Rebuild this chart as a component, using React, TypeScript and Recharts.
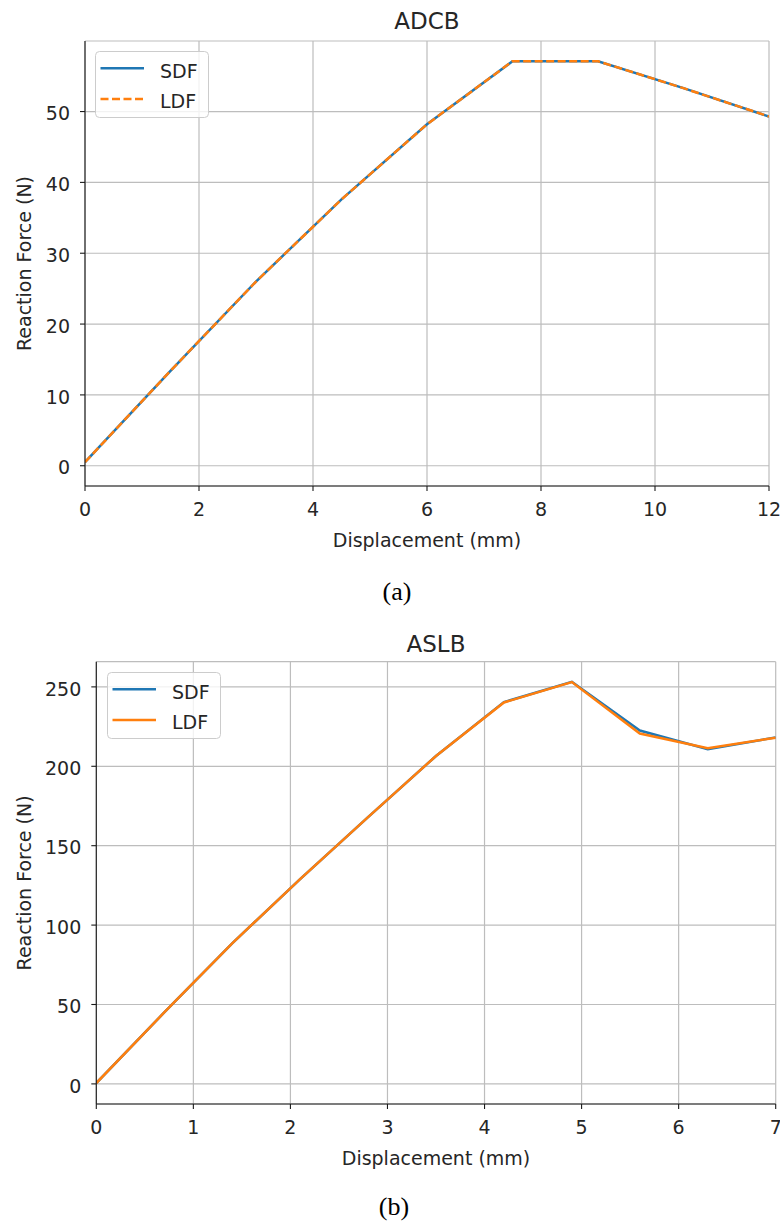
import { LineChart, Line, XAxis, YAxis, CartesianGrid, Legend } from "recharts";

// ADCB: reaction force vs. displacement
const ADCB_DISP = [0, 1.5, 3, 4.5, 6, 7.5, 9, 10.5, 12];
const ADCB_SDF = [0.5, 13.4, 26.0, 37.6, 48.2, 57.1, 57.1, 53.3, 49.3];
const ADCB_LDF = [0.5, 13.4, 26.0, 37.6, 48.2, 57.1, 57.1, 53.3, 49.3];
const ADCB_X_TICKS = [0, 2, 4, 6, 8, 10, 12];
const ADCB_Y_TICKS = [0, 10, 20, 30, 40, 50];

// ASLB: reaction force vs. displacement
const ASLB_DISP = [0, 0.7, 1.4, 2.1, 2.8, 3.5, 4.2, 4.9, 5.6, 6.3, 7.0];
const ASLB_SDF = [0.5, 45.0, 88.5, 129.0, 168.0, 206.5, 240.4, 253.2, 222.5, 210.8, 218.2];
const ASLB_LDF = [0.5, 45.0, 88.5, 129.0, 168.0, 206.5, 240.2, 253.0, 220.6, 211.4, 218.0];
const ASLB_X_TICKS = [0, 1, 2, 3, 4, 5, 6, 7];
const ASLB_Y_TICKS = [0, 50, 100, 150, 200, 250];

const SDF_COLOR = "#1f77b4";
const LDF_COLOR = "#ff7f0e";
const FONT = "'DejaVu Sans', sans-serif";
const INK = "#262626";
const SPINE = "#1a1a1a";
const GRID = "#bdbdbd";
const LINE_W = 2.5;
const DASH = "8 3.5";

const toPoints = (xs: number[], ys: number[]) => xs.map((x, i) => ({ x, y: ys[i] }));

function KeyBox({ dashed }: { dashed: boolean }) {
  return (
    <svg width={114} height={67} style={{ display: "block" }}>
      <rect x={0.5} y={0.5} width={113} height={66} rx={4} fill="#fff" fillOpacity={0.8} stroke="#cccccc" />
      <line x1={5.5} x2={49} y1={17.3} y2={17.3} stroke={SDF_COLOR} strokeWidth={LINE_W} />
      <text x={65} y={26.8} fontFamily={FONT} fontSize={19} fill={INK}>SDF</text>
      <line
        x1={5.5}
        x2={49}
        y1={48}
        y2={48}
        stroke={LDF_COLOR}
        strokeWidth={LINE_W}
        strokeDasharray={dashed ? DASH : undefined}
      />
      <text x={65} y={56.8} fontFamily={FONT} fontSize={19} fill={INK}>LDF</text>
    </svg>
  );
}

interface PanelProps {
  top: number;
  disp: number[];
  sdf: number[];
  ldf: number[];
  xDomain: [number, number];
  yDomain: [number, number];
  xTicks: number[];
  yTicks: number[];
  margin: { top: number; right: number; bottom: number; left: number };
  yAxisWidth: number;
  dashed: boolean;
  legendAt: { left: number; top: number };
}

function ForcePanel(p: PanelProps) {
  const tickStyle = { fontFamily: FONT, fontSize: 19, fill: INK };
  return (
    <div style={{ position: "absolute", left: 0, top: p.top }}>
      <LineChart width={780} height={560} margin={p.margin}>
        <CartesianGrid stroke={GRID} strokeWidth={1.2} />
        <XAxis
          type="number"
          dataKey="x"
          domain={p.xDomain}
          ticks={p.xTicks}
          interval={0}
          allowDataOverflow
          height={40}
          tickSize={5}
          tickMargin={12}
          tick={tickStyle}
          tickLine={{ stroke: SPINE, strokeWidth: 1.1 }}
          axisLine={{ stroke: SPINE, strokeWidth: 1.1 }}
        />
        <YAxis
          type="number"
          domain={p.yDomain}
          ticks={p.yTicks}
          interval={0}
          allowDataOverflow
          width={p.yAxisWidth}
          tickSize={5}
          tickMargin={10}
          tick={{ ...tickStyle, dy: 2 }}
          tickLine={{ stroke: SPINE, strokeWidth: 1.1 }}
          axisLine={{ stroke: SPINE, strokeWidth: 1.1 }}
        />
        {/* top and right spines */}
        <XAxis
          xAxisId="top"
          orientation="top"
          type="number"
          domain={p.xDomain}
          height={0}
          tick={false}
          tickLine={false}
          axisLine={{ stroke: SPINE, strokeWidth: 1.1 }}
        />
        <YAxis
          yAxisId="right"
          orientation="right"
          type="number"
          domain={p.yDomain}
          width={0}
          tick={false}
          tickLine={false}
          axisLine={{ stroke: SPINE, strokeWidth: 1.1 }}
        />
        <Line
          data={toPoints(p.disp, p.sdf)}
          dataKey="y"
          name="SDF"
          type="linear"
          stroke={SDF_COLOR}
          strokeWidth={LINE_W}
          dot={false}
          activeDot={false}
          isAnimationActive={false}
        />
        <Line
          data={toPoints(p.disp, p.ldf)}
          dataKey="y"
          name="LDF"
          type="linear"
          stroke={LDF_COLOR}
          strokeWidth={LINE_W}
          strokeDasharray={p.dashed ? DASH : undefined}
          dot={false}
          activeDot={false}
          isAnimationActive={false}
        />
        <Legend
          layout="horizontal"
          verticalAlign="middle"
          align="center"
          wrapperStyle={{ left: p.legendAt.left, top: p.legendAt.top, width: 114, height: 67 }}
          content={() => <KeyBox dashed={p.dashed} />}
        />
      </LineChart>
    </div>
  );
}

export default function App() {
  const label = { fontFamily: FONT, fontSize: 19, fill: INK };
  const title = { fontFamily: FONT, fontSize: 23, fill: INK };
  const caption = { fontFamily: "'Liberation Serif', 'Times New Roman', serif", fontSize: 26, fill: "#000" };
  return (
    <div style={{ position: "absolute", left: 0, top: 0, width: 780, height: 1229, background: "#fff" }}>
      <ForcePanel
        top={0}
        disp={ADCB_DISP}
        sdf={ADCB_SDF}
        ldf={ADCB_LDF}
        xDomain={[0, 12]}
        yDomain={[-2.86, 59.96]}
        xTicks={ADCB_X_TICKS}
        yTicks={ADCB_Y_TICKS}
        margin={{ top: 41, right: 11, bottom: 34, left: 15 }}
        yAxisWidth={70}
        dashed
        legendAt={{ left: 95, top: 51 }}
      />
      <ForcePanel
        top={600}
        disp={ASLB_DISP}
        sdf={ASLB_SDF}
        ldf={ASLB_LDF}
        xDomain={[0, 7]}
        yDomain={[-12.66, 265.86]}
        xTicks={ASLB_X_TICKS}
        yTicks={ASLB_Y_TICKS}
        margin={{ top: 61.7, right: 4.3, bottom: 16, left: 16.3 }}
        yAxisWidth={80}
        dashed={false}
        legendAt={{ left: 107, top: 71.7 }}
      />
      <svg
        width={780}
        height={1229}
        style={{ position: "absolute", left: 0, top: 0, pointerEvents: "none" }}
      >
        <text x={427} y={29.3} textAnchor="middle" {...title}>ADCB</text>
        <text x={427} y={546.7} textAnchor="middle" {...label}>Displacement (mm)</text>
        <text transform="translate(31,263.5) rotate(-90)" textAnchor="middle" {...label}>Reaction Force (N)</text>
        <text x={397} y={600} textAnchor="middle" {...caption}>(a)</text>

        <text x={436} y={651.7} textAnchor="middle" {...title}>ASLB</text>
        <text x={436} y={1164.5} textAnchor="middle" {...label}>Displacement (mm)</text>
        <text transform="translate(31,882.9) rotate(-90)" textAnchor="middle" {...label}>Reaction Force (N)</text>
        <text x={394} y={1215} textAnchor="middle" {...caption}>(b)</text>
      </svg>
    </div>
  );
}
